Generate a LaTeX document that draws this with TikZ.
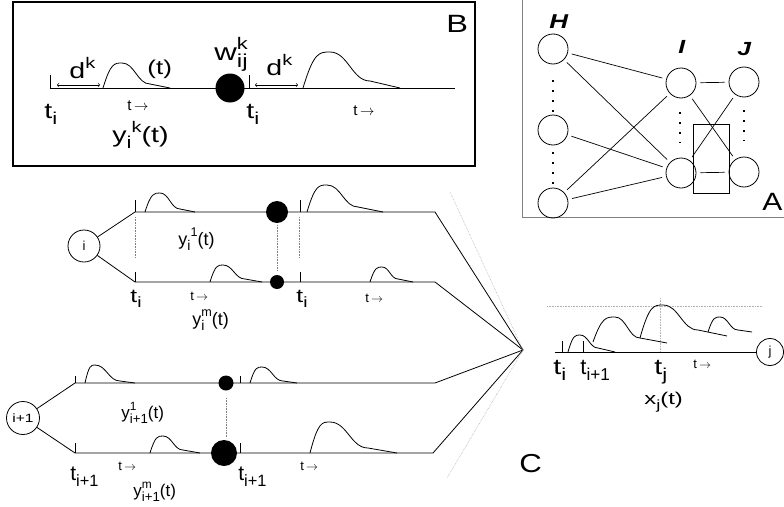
\documentclass[tikz,border=0pt]{standalone}
\usepackage{fontspec}
\setmainfont{Liberation Sans}
\usepackage{graphicx}
\usepackage{tikz}
\usepackage{xcolor}

% start, peak, shoulder, end of one pulse
\newcommand{\pulse}[8]{%
  \draw (#1,#2) .. controls ({#1+0.4*(#3-#1)},#4) and ({#3-0.4*(#3-#1)},#4) .. (#3,#4)
    .. controls ({#3+0.45*(#5-#3)},#4) and ({#5-0.45*(#5-#3)},#6) .. (#5,#6) -- (#7,#8);}
\newcommand{\wide}[1]{\scalebox{1.3}[1]{#1}}
\newcommand{\lo}[1]{\raisebox{-0.3em}{\scalebox{0.78}{#1}}}
\newcommand{\hi}[1]{\raisebox{0.45em}{\scalebox{0.7}{#1}}}
\newcommand{\tarrow}{t\,$\rightarrow$}

\begin{document}
\begin{tikzpicture}[x=1pt,y=-1pt,line width=0.8pt,
    neuron/.style={shape=circle,draw=black,minimum size=32pt,inner sep=0pt,font=\fontsize{13}{13}\selectfont},
    unit/.style={shape=circle,draw=black,minimum size=30pt,inner sep=0pt},
    spike/.style={shape=circle,fill=black,inner sep=0pt},
    lbl/.style={anchor=base west,inner sep=0pt,font=\fontsize{19}{19}\selectfont},
    small/.style={anchor=base west,inner sep=0pt,font=\fontsize{13}{13}\selectfont},
    guide/.style={gray,densely dotted,line width=0.6pt}]
    \useasboundingbox (0,0) rectangle (784,506);

    % B: one synapse
    \draw[line width=1.4pt] (13,2) rectangle (475,166);
    \node[lbl,font=\fontsize{25}{25}\selectfont] (labB) at (446,32) {\wide{B}};
    \coordinate (b0) at (50,88);
    \coordinate (b1) at (455,88);
    \draw (b0) -- (b1);
    \draw (50,75) -- (b0);
    \draw (249,75) -- (249,88);
    \pulse{103}{88}{122}{63}{150}{84}{170}{88}
    \pulse{303}{88}{330}{52}{370}{81}{400}{88}
    \node[spike,minimum size=29pt] (wB) at (230,88) {};
    \coordinate (dka) at (57,85);
    \coordinate (dkb) at (100,85);
    \coordinate (dkc) at (255,85);
    \coordinate (dkd) at (298,85);
    \path [<->,line width=0.6pt] (dka) edge (dkb);
    \path [<->,line width=0.6pt] (dkc) edge (dkd);
    \node[lbl,font=\fontsize{22}{22}\selectfont] (dB1) at (69,78) {\wide{d\hi{k}}};
    \node[lbl,font=\fontsize{22}{22}\selectfont] (dB2) at (266,75) {\wide{d\hi{k}}};
    \node[lbl,font=\fontsize{20}{20}\selectfont] (tB) at (147,74) {\wide{(t)}};
    \node[lbl,font=\fontsize{24}{24}\selectfont] (wlab) at (214,60) {\wide{w\rlap{\hi{k}}\lo{ij}}};
    \node[lbl,font=\fontsize{22}{22}\selectfont] (tiB1) at (44,118) {\wide{t\lo{i}}};
    \node[lbl,font=\fontsize{22}{22}\selectfont] (tiB2) at (246,118) {\wide{t\lo{i}}};
    \node[lbl,font=\fontsize{15}{15}\selectfont] (arB1) at (127,110) {\tarrow};
    \node[lbl,font=\fontsize{15}{15}\selectfont] (arB2) at (353,115) {\tarrow};
    \node[lbl,font=\fontsize{22}{22}\selectfont] (yB) at (112,142) {\wide{y\lo{i}\hi{k}(t)}};

    % A: network
    \draw[gray,line width=1pt] (522,0) -- (522,217) -- (784,217);
    \node[unit] (h1) at (553,49) {};
    \node[unit] (h2) at (553,130) {};
    \node[unit] (h3) at (553,203) {};
    \node[unit] (i1) at (681,83) {};
    \node[unit] (i2) at (681,173) {};
    \node[unit] (j1) at (744,82) {};
    \node[unit] (j2) at (744,172) {};
    \path [line width=0.7pt,shorten <=4pt,shorten >=4pt]
        (h1) edge (i1) (h1) edge (i2) (h2) edge (i2) (h3) edge (i1) (h3) edge (i2)
        (i1) edge (j1) (i1) edge (j2) (i2) edge (j2) (i2) edge (j1);
    \draw[line width=1.6pt,dash pattern=on 1.6pt off 8.4pt] (553,80) -- (553,112);
    \draw[line width=1.6pt,dash pattern=on 1.6pt off 8.4pt] (553,152) -- (553,186);
    \draw[line width=1.6pt,dash pattern=on 1.6pt off 8.4pt] (680,112) -- (680,143);
    \draw[line width=1.6pt,dash pattern=on 1.6pt off 8.4pt] (744,110) -- (744,141);
    \draw[line width=0.7pt] (693,124) rectangle (729,193);
    \node[lbl,font=\fontsize{20}{20}\selectfont\bfseries\itshape] (labH) at (549,28) {\wide{H}};
    \node[lbl,font=\fontsize{19}{19}\selectfont\bfseries\itshape] (labI) at (678,53) {\wide{I}};
    \node[lbl,font=\fontsize{19}{19}\selectfont\bfseries\itshape] (labJ) at (737,55) {\wide{J}};
    \node[lbl,font=\fontsize{25}{25}\selectfont] (labA) at (762,210) {\scalebox{1.2}[1]{A}};

    % C: neuron i
    \coordinate (soma) at (523,350);
    \node[neuron] (ni) at (84,246) {i};
    \coordinate (ia) at (135,212);
    \coordinate (iae) at (435,212);
    \coordinate (ib) at (135,282);
    \coordinate (ibe) at (435,282);
    \draw (ni) -- (ia) -- (iae) -- (soma);
    \draw (ni) -- (ib) -- (ibe) -- (soma);
    \draw (135,200) -- (ia);
    \draw (300,200) -- (300,212);
    \draw (135,272) -- (ib);
    \draw (300,272) -- (300,282);
    \pulse{145}{212}{160}{193}{180}{209}{195}{212}
    \pulse{307}{212}{327}{185}{358}{207}{383}{212}
    \pulse{210}{282}{223}{265}{245}{279}{262}{282}
    \pulse{370}{282}{382}{267}{398}{279}{413}{282}
    \draw[guide] (135,217) -- (135,258);
    \draw[guide] (299,217) -- (299,258);
    \draw[guide] (277,225) -- (277,270);
    \node[spike,minimum size=22pt] (wi1) at (277,212) {};
    \node[spike,minimum size=14pt] (wim) at (277,282) {};
    \node[lbl] (ti1) at (130,302) {\wide{t\lo{i}}};
    \node[lbl] (ti2) at (296,302) {\wide{t\lo{i}}};
    \node[small] (ari1) at (190,300) {\tarrow};
    \node[small] (ari2) at (365,302) {\tarrow};
    \node[lbl,font=\fontsize{18}{18}\selectfont] (yi1) at (178,245) {y\lo{i}\hi{1}(t)};
    \node[lbl,font=\fontsize{18}{18}\selectfont] (yim) at (192,325) {y\rlap{\lo{i}}\hi{m}(t)};

    % C: neuron i+1
    \node[neuron,minimum size=33pt,font=\fontsize{12}{12}\selectfont] (nk) at (23,418) {\wide{i+1}};
    \coordinate (ka) at (75,383);
    \coordinate (kae) at (435,383);
    \coordinate (kb) at (75,453);
    \coordinate (kbe) at (433,453);
    \draw (nk) -- (ka) -- (kae) -- (soma);
    \draw (nk) -- (kb) -- (kbe) -- (soma);
    \draw (75,376) -- (ka);
    \draw (240,376) -- (240,383);
    \draw (75,443) -- (kb);
    \draw (240,443) -- (240,453);
    \pulse{85}{383}{95}{365}{120}{381}{135}{383}
    \pulse{250}{383}{262}{367}{283}{381}{297}{383}
    \pulse{150}{453}{163}{436}{183}{450}{200}{453}
    \pulse{310}{453}{330}{422}{368}{448}{397}{453}
    \draw[guide] (226,398) -- (226,437);
    \node[spike,minimum size=15pt] (wk1) at (226,383) {};
    \node[spike,minimum size=26pt] (wkm) at (224,453) {};
    \node[lbl,font=\fontsize{21}{21}\selectfont] (tk1) at (70,480) {t\lo{i+1}};
    \node[lbl,font=\fontsize{21}{21}\selectfont] (tk2) at (238,480) {t\lo{i+1}};
    \node[small] (ark1) at (118,470) {\tarrow};
    \node[small] (ark2) at (300,470) {\tarrow};
    \node[lbl,font=\fontsize{17}{17}\selectfont] (yk1) at (121,418) {y\rlap{\hi{1}}\lo{i+1}(t)};
    \node[lbl,font=\fontsize{17}{17}\selectfont] (ykm) at (133,496) {y\rlap{\hi{m}}\lo{i+1}(t)};

    % cone and neuron j
    \coordinate (cone1) at (450,192);
    \coordinate (cone2) at (447,478);
    \draw[guide,gray!60] (cone1) -- (soma) -- (cone2);
    \node[neuron,minimum size=27pt] (nj) at (770,352) {j};
    \coordinate (ja) at (555,352);
    \draw (ja) -- (nj);
    \draw (562,341) -- (562,352);
    \draw (583,341) -- (583,352);
    \draw[guide,gray!60] (547,306) -- (763,306);
    \draw[guide,gray!60] (660,298) -- (660,352);
    \pulse{568}{352}{580}{335}{598}{348}{615}{352}
    \pulse{593}{342}{615}{317}{640}{338}{667}{343}
    \pulse{640}{338}{663}{305}{698}{330}{727}{336}
    \pulse{708}{332}{720}{317}{738}{330}{752}{332}
    \node[lbl,font=\fontsize{22}{22}\selectfont] (tj1) at (553,374) {\wide{t\lo{i}}};
    \node[lbl,font=\fontsize{22}{22}\selectfont] (tj2) at (580,374) {t\lo{i+1}};
    \node[lbl,font=\fontsize{22}{22}\selectfont] (tj3) at (654,374) {\wide{t\lo{j}}};
    \node[small] (arj) at (693,368) {\tarrow};
    \node[lbl,font=\fontsize{17}{17}\selectfont] (xj) at (644,404) {\scalebox{1.4}[1]{x\lo{j}(t)}};
    \node[lbl,font=\fontsize{26}{26}\selectfont] (labC) at (519,472) {\scalebox{1.2}[1]{C}};
\end{tikzpicture}
\end{document}
